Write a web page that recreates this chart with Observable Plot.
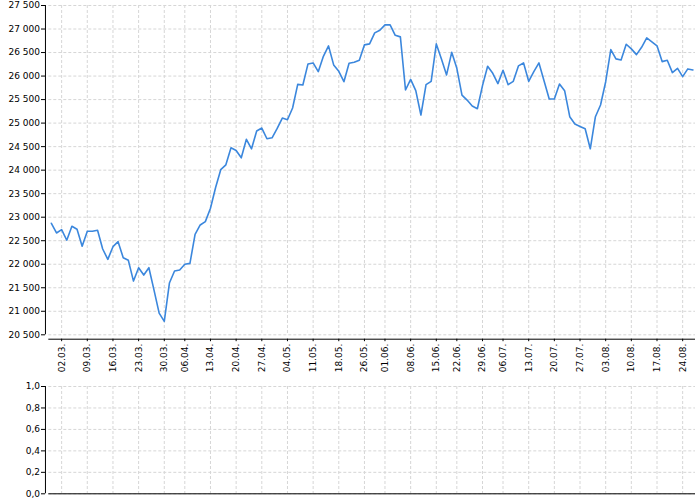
<!DOCTYPE html>
<html>
<head>
<meta charset="utf-8">
<script src="https://cdn.jsdelivr.net/npm/d3@7"></script>
<script src="https://cdn.jsdelivr.net/npm/@observablehq/plot@0.6"></script>
<style>
  html, body { margin: 0; padding: 0; background: #fff; }
  #chart svg { display: block; }
</style>
</head>
<body>
<div id="chart"></div>
<script>
// Trading days (dd.mm.)
const dates = [
  "26.02.","27.02.",
  "02.03.","03.03.","04.03.","05.03.","06.03.","09.03.","10.03.","11.03.","12.03.","13.03.",
  "16.03.","17.03.","18.03.","19.03.","20.03.","23.03.","24.03.","25.03.","26.03.","27.03.","30.03.","31.03.",
  "01.04.","02.04.","06.04.","07.04.","08.04.","09.04.","10.04.","13.04.","14.04.","15.04.","16.04.","17.04.",
  "20.04.","21.04.","22.04.","23.04.","24.04.","27.04.","28.04.","29.04.","30.04.",
  "01.05.","04.05.","05.05.","06.05.","07.05.","08.05.","11.05.","12.05.","13.05.","14.05.","15.05.",
  "18.05.","19.05.","20.05.","21.05.","22.05.","26.05.","27.05.","28.05.","29.05.",
  "01.06.","02.06.","03.06.","04.06.","05.06.","08.06.","09.06.","10.06.","11.06.","12.06.",
  "15.06.","16.06.","17.06.","18.06.","22.06.","23.06.","24.06.","25.06.","26.06.","29.06.","30.06.",
  "01.07.","02.07.","06.07.","07.07.","08.07.","09.07.","10.07.","13.07.","14.07.","15.07.","16.07.","17.07.",
  "20.07.","21.07.","22.07.","23.07.","24.07.","27.07.","28.07.","29.07.","30.07.","31.07.",
  "03.08.","04.08.","05.08.","06.08.","07.08.","10.08.","11.08.","12.08.","13.08.","14.08.",
  "17.08.","18.08.","19.08.","20.08.","21.08.","24.08.","25.08.","26.08."
];
const values = [
  22871,22665,
  22735,22510,22808,22744,22382,22702,22702,22723,22324,22104,
  22373,22480,22139,22083,21642,21926,21770,21926,21451,20960,20784,21600,
  21855,21877,21998,22019,22637,22835,22906,23191,23630,24010,24113,24475,
  24418,24262,24655,24454,24831,24895,24667,24688,24887,
  25108,25072,25321,25824,25810,26258,26279,26094,26420,26642,26237,
  26100,25881,26271,26292,26335,26663,26684,26918,26974,
  27089,27089,26867,26833,25704,25930,25690,25172,25817,25888,
  26684,26365,26024,26505,26164,25596,25490,25364,25306,25796,26207,
  26058,25839,26122,25817,25888,26216,26279,25888,26094,26279,25896,25513,
  25513,25832,25690,25136,24980,24929,24880,24454,25136,25385,
  25880,26563,26365,26343,26676,26578,26456,26612,26812,26727,
  26642,26307,26335,26073,26164,25988,26152,26130
];
const xTicks = ["02.03.","09.03.","16.03.","23.03.","30.03.","06.04.","13.04.","20.04.","27.04.",
  "04.05.","11.05.","18.05.","26.05.","01.06.","08.06.","15.06.","22.06.","29.06.","06.07.",
  "13.07.","20.07.","27.07.","03.08.","10.08.","17.08.","24.08."];
const yTicksTop = [20500,21000,21500,22000,22500,23000,23500,24000,24500,25000,25500,26000,26500,27000,27500];
const yTicksBottom = [0,0.2,0.4,0.6,0.8,1];

const data = dates.map((d, i) => ({date: d, value: values[i]}));

const locale = d3.formatLocale({decimal: ",", thousands: "\u00a0", grouping: [3], currency: ["", ""]});
const fmtThousands = locale.format(",");
const fmtDecimal = locale.format(".1f");

const gridStyle = {stroke: "#d6d6d6", strokeOpacity: 1, strokeDasharray: "3,2", strokeWidth: 1};
const fontStyle = {fontFamily: "DejaVu Sans, sans-serif", fontSize: "9px", color: "#000", background: "#fff", overflow: "visible"};
const textOpts = {fontSize: 9, fontFamily: "DejaVu Sans", fill: "#000"};

const topChart = Plot.plot({
  width: 700, height: 375,
  marginLeft: 48.3, marginRight: 5, marginTop: 5, marginBottom: 40.7,
  style: fontStyle,
  x: {type: "point", domain: dates, padding: 0.5, round: false},
  y: {domain: [20500, 27500]},
  marks: [
    Plot.gridX(xTicks, gridStyle),
    Plot.gridY(yTicksTop, gridStyle),
    Plot.ruleX([dates[0]], {dx: -5.9, stroke: "#000", strokeWidth: 1}),
    Plot.ruleY([20500], {dy: 4.4, stroke: "#000", strokeWidth: 1}),
    Plot.axisY(yTicksTop, {tickFormat: fmtThousands, tickSize: 4, tickPadding: 1.5, dx: -3.3, label: null, ...textOpts}),
    Plot.axisX(xTicks, {tickRotate: -90, tickSize: 2.5, tickPadding: 2, dy: 4.4, label: null, ...textOpts}),
    Plot.line(data, {x: "date", y: "value", stroke: "#3b87dd", strokeWidth: 1.6})
  ]
});

const bottomChart = Plot.plot({
  width: 700, height: 125,
  marginLeft: 48.3, marginRight: 5, marginTop: 11, marginBottom: 6.7,
  style: fontStyle,
  x: {type: "point", domain: dates, padding: 0.5, round: false, axis: null},
  y: {domain: [0, 1]},
  marks: [
    Plot.gridX(xTicks, gridStyle),
    Plot.gridY(yTicksBottom, gridStyle),
    Plot.ruleX([dates[0]], {dx: -5.9, stroke: "#000", strokeWidth: 1}),
    Plot.ruleY([0], {stroke: "#000", strokeWidth: 1}),
    Plot.axisY(yTicksBottom, {tickFormat: fmtDecimal, tickSize: 4, tickPadding: 1.5, dx: -3.3, label: null, ...textOpts})
  ]
});

const container = document.getElementById("chart");
container.appendChild(topChart);
container.appendChild(bottomChart);
</script>
</body>
</html>
